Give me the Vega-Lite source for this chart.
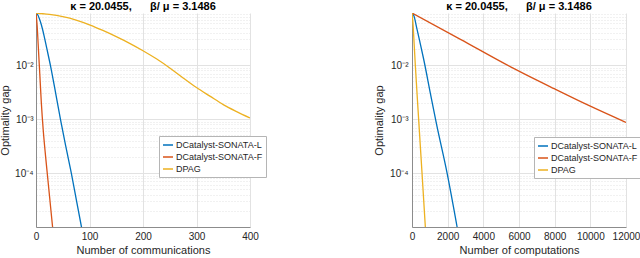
{
  "$schema": "https://vega.github.io/schema/vega-lite/v6.json",
  "autosize": {"type": "none"},
  "padding": {"left": 36, "top": 13, "right": 604, "bottom": 245},
  "background": "white",
  "bounds": "flush",
  "spacing": 162,
  "config": {
    "font": "Liberation Sans",
    "view": {"stroke": null},
    "axis": {
      "domainColor": "#8c8c8c",
      "domainWidth": 1,
      "gridColor": "#e2e2e2",
      "gridWidth": 1,
      "ticks": false,
      "labelFontSize": 10,
      "labelColor": "#262626",
      "labelPadding": 4,
      "labelFlush": false,
      "labelOverlap": false,
      "titleFontSize": 11,
      "titleFontWeight": "normal",
      "titleColor": "#262626"
    },
    "title": {"fontSize": 11, "fontWeight": "bold", "color": "#000000", "baseline": "bottom", "offset": -3, "anchor": "middle", "frame": "group"}
  },
  "resolve": {"scale": {"color": "independent"}, "legend": {"color": "independent"}},
  "datasets": {
    "comm": [
      {"series": "DCatalyst-SONATA-L", "x": 0, "y": 0.093},
      {"series": "DCatalyst-SONATA-L", "x": 3, "y": 0.0871},
      {"series": "DCatalyst-SONATA-L", "x": 6, "y": 0.0741},
      {"series": "DCatalyst-SONATA-L", "x": 10, "y": 0.0562},
      {"series": "DCatalyst-SONATA-L", "x": 15, "y": 0.0355},
      {"series": "DCatalyst-SONATA-L", "x": 20, "y": 0.0209},
      {"series": "DCatalyst-SONATA-L", "x": 27.5, "y": 0.00933},
      {"series": "DCatalyst-SONATA-L", "x": 36.8, "y": 0.00302},
      {"series": "DCatalyst-SONATA-L", "x": 46, "y": 0.000955},
      {"series": "DCatalyst-SONATA-L", "x": 56, "y": 0.000302},
      {"series": "DCatalyst-SONATA-L", "x": 66, "y": 0.0001},
      {"series": "DCatalyst-SONATA-L", "x": 75.5, "y": 0.0000316},
      {"series": "DCatalyst-SONATA-L", "x": 85, "y": 0.00001},
      {"series": "DCatalyst-SONATA-F", "x": 0, "y": 0.093},
      {"series": "DCatalyst-SONATA-F", "x": 2, "y": 0.0562},
      {"series": "DCatalyst-SONATA-F", "x": 4, "y": 0.0251},
      {"series": "DCatalyst-SONATA-F", "x": 7, "y": 0.00708},
      {"series": "DCatalyst-SONATA-F", "x": 10, "y": 0.002},
      {"series": "DCatalyst-SONATA-F", "x": 13.5, "y": 0.000631},
      {"series": "DCatalyst-SONATA-F", "x": 18, "y": 0.0002},
      {"series": "DCatalyst-SONATA-F", "x": 24, "y": 0.0000501},
      {"series": "DCatalyst-SONATA-F", "x": 31, "y": 0.00001},
      {"series": "DPAG", "x": 0, "y": 0.093},
      {"series": "DPAG", "x": 25, "y": 0.0875},
      {"series": "DPAG", "x": 50, "y": 0.0794},
      {"series": "DPAG", "x": 75, "y": 0.0687},
      {"series": "DPAG", "x": 100, "y": 0.0562},
      {"series": "DPAG", "x": 125, "y": 0.0442},
      {"series": "DPAG", "x": 150, "y": 0.0339},
      {"series": "DPAG", "x": 175, "y": 0.0255},
      {"series": "DPAG", "x": 200, "y": 0.0186},
      {"series": "DPAG", "x": 225, "y": 0.01315},
      {"series": "DPAG", "x": 250, "y": 0.00891},
      {"series": "DPAG", "x": 275, "y": 0.00582},
      {"series": "DPAG", "x": 300, "y": 0.00385},
      {"series": "DPAG", "x": 325, "y": 0.00267},
      {"series": "DPAG", "x": 350, "y": 0.00186},
      {"series": "DPAG", "x": 375, "y": 0.00138},
      {"series": "DPAG", "x": 400, "y": 0.00105}
    ],
    "comp": [
      {"series": "DCatalyst-SONATA-L", "x": 0, "y": 0.093},
      {"series": "DCatalyst-SONATA-L", "x": 100, "y": 0.0832},
      {"series": "DCatalyst-SONATA-L", "x": 280, "y": 0.0468},
      {"series": "DCatalyst-SONATA-L", "x": 450, "y": 0.0263},
      {"series": "DCatalyst-SONATA-L", "x": 655, "y": 0.0129},
      {"series": "DCatalyst-SONATA-L", "x": 1030, "y": 0.00302},
      {"series": "DCatalyst-SONATA-L", "x": 1367, "y": 0.000832},
      {"series": "DCatalyst-SONATA-L", "x": 1968, "y": 0.0001},
      {"series": "DCatalyst-SONATA-L", "x": 2530, "y": 0.00001},
      {"series": "DCatalyst-SONATA-F", "x": 0, "y": 0.093},
      {"series": "DCatalyst-SONATA-F", "x": 2717, "y": 0.0302},
      {"series": "DCatalyst-SONATA-F", "x": 5529, "y": 0.00933},
      {"series": "DCatalyst-SONATA-F", "x": 8006, "y": 0.00363},
      {"series": "DCatalyst-SONATA-F", "x": 10000, "y": 0.00174},
      {"series": "DCatalyst-SONATA-F", "x": 12000, "y": 0.00087},
      {"series": "DPAG", "x": 0, "y": 0.093},
      {"series": "DPAG", "x": 50, "y": 0.0631},
      {"series": "DPAG", "x": 120, "y": 0.0251},
      {"series": "DPAG", "x": 186, "y": 0.01},
      {"series": "DPAG", "x": 372, "y": 0.001},
      {"series": "DPAG", "x": 562, "y": 0.0001},
      {"series": "DPAG", "x": 748, "y": 0.00001}
    ]
  },
  "hconcat": [
    {
      "width": 214,
      "height": 214,
      "title": {"text": "κ = 20.0455,\u00a0\u00a0\u00a0\u00a0\u00a0\u00a0β/ μ = 3.1486"},
      "data": {"name": "comm"},
      "mark": {"type": "line", "strokeWidth": 1.3, "interpolate": "monotone", "clip": true},
      "encoding": {
        "x": {
          "field": "x", "type": "quantitative",
          "scale": {"domain": [0, 400], "nice": false},
          "axis": {"values": [0, 100, 200, 300, 400], "format": "d", "title": "Number of communications", "titlePadding": 3}
        },
        "y": {
          "field": "y", "type": "quantitative",
          "scale": {"type": "log", "domain": [0.00001, 0.093], "nice": false},
          "axis": {
            "title": "Optimality gap",
            "values": [0.00002, 0.00003, 0.00004, 0.00005, 0.00006, 0.00007, 0.00008, 0.00009, 0.0001, 0.0002, 0.0003, 0.0004, 0.0005, 0.0006, 0.0007, 0.0008, 0.0009, 0.001, 0.002, 0.003, 0.004, 0.005, 0.006, 0.007, 0.008, 0.009, 0.01, 0.02, 0.03, 0.04, 0.05, 0.06, 0.07, 0.08, 0.09],
            "labelExpr": "datum.value === 0.01 ? '10⁻²' : datum.value === 0.001 ? '10⁻³' : datum.value === 0.0001 ? '10⁻⁴' : ''",
            "gridDash": {"condition": {"test": "datum.value === 0.01 || datum.value === 0.001 || datum.value === 0.0001", "value": []}, "value": [1, 2]},
            "labelPadding": 3,
            "minExtent": 23,
            "maxExtent": 23,
            "titlePadding": 2.5
          }
        },
        "color": {
          "field": "series", "type": "nominal",
          "scale": {"domain": ["DCatalyst-SONATA-L", "DCatalyst-SONATA-F", "DPAG"], "range": ["#0072BD", "#D95319", "#EDB120"]},
          "legend": {"orient": "none", "legendX": 123, "legendY": 123, "title": null, "symbolType": "stroke", "symbolSize": 100, "symbolStrokeWidth": 1.5, "labelFontSize": 9, "labelColor": "#262626", "fillColor": "white", "strokeColor": "#b5b5b5", "padding": 3, "rowPadding": 1, "labelOffset": 2}
        }
      }
    },
    {
      "width": 214,
      "height": 214,
      "title": {"text": "κ = 20.0455,\u00a0\u00a0\u00a0\u00a0\u00a0\u00a0β/ μ = 3.1486"},
      "data": {"name": "comp"},
      "mark": {"type": "line", "strokeWidth": 1.3, "interpolate": "monotone", "clip": true},
      "encoding": {
        "x": {
          "field": "x", "type": "quantitative",
          "scale": {"domain": [0, 12000], "nice": false},
          "axis": {"values": [0, 2000, 4000, 6000, 8000, 10000, 12000], "format": "d", "title": "Number of computations", "titlePadding": 3}
        },
        "y": {
          "field": "y", "type": "quantitative",
          "scale": {"type": "log", "domain": [0.00001, 0.093], "nice": false},
          "axis": {
            "title": "Optimality gap",
            "values": [0.00002, 0.00003, 0.00004, 0.00005, 0.00006, 0.00007, 0.00008, 0.00009, 0.0001, 0.0002, 0.0003, 0.0004, 0.0005, 0.0006, 0.0007, 0.0008, 0.0009, 0.001, 0.002, 0.003, 0.004, 0.005, 0.006, 0.007, 0.008, 0.009, 0.01, 0.02, 0.03, 0.04, 0.05, 0.06, 0.07, 0.08, 0.09],
            "labelExpr": "datum.value === 0.01 ? '10⁻²' : datum.value === 0.001 ? '10⁻³' : datum.value === 0.0001 ? '10⁻⁴' : ''",
            "gridDash": {"condition": {"test": "datum.value === 0.01 || datum.value === 0.001 || datum.value === 0.0001", "value": []}, "value": [1, 2]},
            "labelPadding": 4,
            "minExtent": 25,
            "maxExtent": 25,
            "titlePadding": 3
          }
        },
        "color": {
          "field": "series", "type": "nominal",
          "scale": {"domain": ["DCatalyst-SONATA-L", "DCatalyst-SONATA-F", "DPAG"], "range": ["#0072BD", "#D95319", "#EDB120"]},
          "legend": {"orient": "none", "legendX": 122, "legendY": 124, "title": null, "symbolType": "stroke", "symbolSize": 100, "symbolStrokeWidth": 1.5, "labelFontSize": 9, "labelColor": "#262626", "fillColor": "white", "strokeColor": "#b5b5b5", "padding": 3, "rowPadding": 1, "labelOffset": 2}
        }
      }
    }
  ]
}
